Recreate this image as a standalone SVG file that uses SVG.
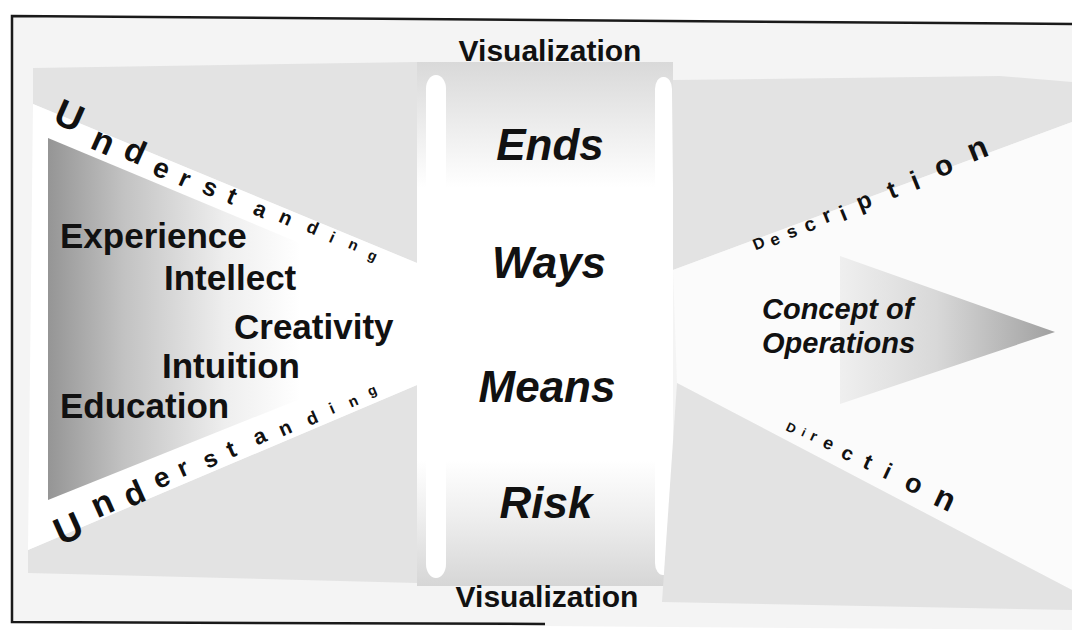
<svg xmlns="http://www.w3.org/2000/svg" width="1072" height="630" viewBox="0 0 1072 630">
<defs>
<linearGradient id="darkGrad" gradientUnits="userSpaceOnUse" x1="48" y1="0" x2="300" y2="0">
<stop offset="0" stop-color="#959595"/>
<stop offset="0.3" stop-color="#c2c2c2"/>
<stop offset="0.7" stop-color="#eeeeee"/>
<stop offset="1" stop-color="#ffffff"/>
</linearGradient>
<linearGradient id="scrollGrad" gradientUnits="userSpaceOnUse" x1="0" y1="62" x2="0" y2="586">
<stop offset="0" stop-color="#d9d9d9"/>
<stop offset="0.13" stop-color="#eeeeee"/>
<stop offset="0.24" stop-color="#ffffff"/>
<stop offset="0.76" stop-color="#ffffff"/>
<stop offset="0.87" stop-color="#eeeeee"/>
<stop offset="1" stop-color="#d6d6d6"/>
</linearGradient>
<linearGradient id="arrowGrad" gradientUnits="userSpaceOnUse" x1="840" y1="0" x2="1055" y2="0">
<stop offset="0" stop-color="#efefef"/>
<stop offset="0.45" stop-color="#d8d8d8"/>
<stop offset="1" stop-color="#a0a0a0"/>
</linearGradient>
<style>
.bg{fill:#f4f4f4}
.gray{fill:#e3e3e3}
.white{fill:#ffffff}
.lbl{font-family:"Liberation Sans",Arial,sans-serif;font-weight:bold;fill:#111}
.vis{font-size:30px;text-anchor:middle}
.big{font-size:44px;font-style:italic;text-anchor:middle}
.item{font-size:35px}
.conc{font-size:29px;font-style:italic}
.curve{font-family:"Liberation Sans",Arial,sans-serif;font-weight:bold;fill:#111}
.frame{fill:none;stroke:#1a1a1a;stroke-width:2.5}
</style>
</defs>

<rect x="0" y="0" width="1072" height="630" fill="#ffffff"/>
<polygon class="bg" points="12,16 1072,24 1072,630 12,622"/>

<g id="left-funnel">
<polygon class="gray" points="33,68 417,62 417,263 33,104"/>
<polygon class="gray" points="28,573 417,583 417,385 28,550"/>
<polygon class="white" points="33,104 417,263 417,385 28,550"/>
<polygon fill="url(#darkGrad)" points="48,138 417,292 417,352 48,500"/>
</g>

<g id="scroll">
<rect x="417" y="62" width="256" height="524" fill="url(#scrollGrad)"/>
<rect x="426" y="75" width="20" height="503" rx="10" ry="14" class="white"/>
<rect x="655" y="77" width="17" height="498" rx="8" ry="12" class="white"/>
</g>

<g id="right-funnel">
<polygon class="gray" points="673,80 1000,76 1072,82 1072,122 673,270"/>
<polygon fill="#fbfbfb" points="673,270 1072,122 1072,590 677,383"/>
<polygon class="gray" points="677,383 1072,590 1072,610 662,602"/>
</g>

<g id="arrow">
<polygon fill="url(#arrowGrad)" points="840,256 1055,332 840,404"/>
</g>

<g id="connectors"/>

<g id="frame">
<polyline class="frame" points="1072,24 12,16 12,622 545,624"/>
</g>

<g id="visualization-labels">
<text class="lbl vis" x="550" y="61">Visualization</text>
<text class="lbl vis" x="547" y="607">Visualization</text>
</g>

<g id="ends-ways-means-risk">
<text class="lbl big" x="550" y="160">Ends</text>
<text class="lbl big" x="549" y="278">Ways</text>
<text class="lbl big" x="547" y="402">Means</text>
<text class="lbl big" x="546" y="518">Risk</text>
</g>

<g id="understanding-items">
<text class="lbl item" x="60" y="248">Experience</text>
<text class="lbl item" x="164" y="290">Intellect</text>
<text class="lbl item" x="234" y="339">Creativity</text>
<text class="lbl item" x="162" y="378">Intuition</text>
<text class="lbl item" x="60" y="418">Education</text>
</g>

<g id="understanding-top">
<text class="curve" rotate="24"><tspan x="51.6" y="122.1" font-size="38">U</tspan><tspan x="88.8" y="147.6" font-size="35">n</tspan><tspan x="121.5" y="157.3" font-size="33">d</tspan><tspan x="150.7" y="173.8" font-size="28">e</tspan><tspan x="177" y="184.3" font-size="25">r</tspan><tspan x="200.6" y="192.2" font-size="25">s</tspan><tspan x="224.9" y="201.8" font-size="24">t</tspan><tspan x="251.7" y="213.5" font-size="22">a</tspan><tspan x="277.4" y="221.2" font-size="20">n</tspan><tspan x="305.2" y="230.9" font-size="18">d</tspan><tspan x="328" y="241.6" font-size="16">i</tspan><tspan x="347.3" y="247.4" font-size="15">n</tspan><tspan x="366.7" y="258.2" font-size="14">g</tspan></text>
</g>

<g id="understanding-bottom">
<text class="curve" rotate="-24"><tspan x="60.9" y="545.7" font-size="38">U</tspan><tspan x="97.3" y="518.6" font-size="35">n</tspan><tspan x="129.6" y="507.8" font-size="33">d</tspan><tspan x="158" y="489.6" font-size="28">e</tspan><tspan x="181.8" y="477.5" font-size="25">r</tspan><tspan x="207.3" y="469.1" font-size="24">s</tspan><tspan x="230.8" y="458.3" font-size="24">t</tspan><tspan x="257.1" y="445.5" font-size="22">a</tspan><tspan x="282.3" y="436.8" font-size="20">n</tspan><tspan x="309.6" y="426" font-size="18">d</tspan><tspan x="331.9" y="414.2" font-size="16">i</tspan><tspan x="351" y="407.8" font-size="15">n</tspan><tspan x="370.1" y="396.4" font-size="14">g</tspan></text>
</g>

<g id="description">
<text class="curve" rotate="-22"><tspan x="755.5" y="250.6" font-size="16">D</tspan><tspan x="772.5" y="246.5" font-size="17">e</tspan><tspan x="789.3" y="238.9" font-size="18">s</tspan><tspan x="807" y="232.7" font-size="20">c</tspan><tspan x="825.6" y="223.4" font-size="21">r</tspan><tspan x="843" y="221.5" font-size="22">i</tspan><tspan x="860.1" y="210.9" font-size="24">p</tspan><tspan x="891.2" y="199.2" font-size="25">t</tspan><tspan x="915" y="190.4" font-size="27">i</tspan><tspan x="938.7" y="178.1" font-size="29">o</tspan><tspan x="972.3" y="162.3" font-size="32">n</tspan></text>
</g>

<g id="direction">
<text class="curve" rotate="25"><tspan x="785" y="430" font-size="13">D</tspan><tspan x="800.5" y="435.6" font-size="12">i</tspan><tspan x="809" y="439.6" font-size="15">r</tspan><tspan x="821.5" y="446.6" font-size="18">e</tspan><tspan x="839.8" y="456.9" font-size="20">c</tspan><tspan x="861.5" y="467" font-size="22">t</tspan><tspan x="881.6" y="477.1" font-size="23">i</tspan><tspan x="902.7" y="488.2" font-size="27">o</tspan><tspan x="931.8" y="503.9" font-size="32">n</tspan></text>
</g>

<g id="concept-of-operations">
<text class="lbl conc" x="762" y="319">Concept of</text>
<text class="lbl conc" x="762" y="353">Operations</text>
</g>
</svg>
